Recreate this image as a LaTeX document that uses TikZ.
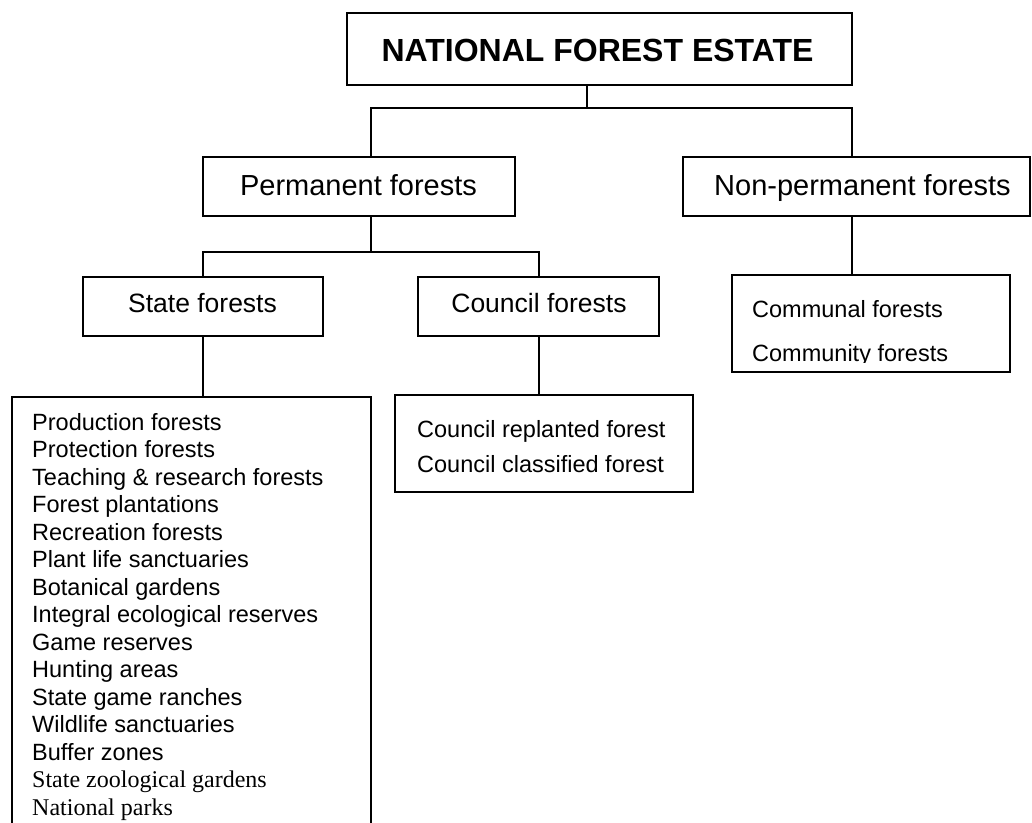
\documentclass[tikz,border=0pt]{standalone}
\usepackage{fontspec}
\setmainfont{Liberation Sans}
\newfontfamily\seriffont{Liberation Serif}
\begin{document}
\begin{tikzpicture}[x=1pt,y=-1pt,
  box/.style={draw=black,line width=1.3pt,inner sep=0pt,outer sep=0pt,rectangle},
  conn/.style={draw=black,line width=1.3pt},
  lbltitle/.style={anchor=base,inner sep=0pt,font=\bfseries\fontsize{32}{36}\selectfont},
  lbltwo/.style={anchor=base,inner sep=0pt,font=\fontsize{29}{33}\selectfont},
  lblthree/.style={anchor=base,inner sep=0pt,font=\fontsize{26.5}{30}\selectfont},
  lbllist/.style={anchor=base west,inner sep=0pt,font=\fontsize{23.5}{27.5}\selectfont},
  lblserif/.style={anchor=base west,inner sep=0pt,font=\seriffont\fontsize{24}{27.5}\selectfont}]
\clip (0,0) rectangle (1032,822);
\fill[white] (0,0) rectangle (1032,822);

% boxes
\node[box,minimum width=505pt,minimum height=72pt] (nfe) at (599.5,49) {};
\node[box,minimum width=312pt,minimum height=59pt] (pf) at (359,186.5) {};
\node[box,minimum width=347pt,minimum height=59pt] (np) at (856.5,186.5) {};
\node[box,minimum width=240pt,minimum height=59pt] (sf) at (203,306.5) {};
\node[box,minimum width=241pt,minimum height=59pt] (cf) at (538.5,306.5) {};
\node[box,minimum width=359pt,minimum height=453pt] (sl) at (191.5,623.5) {};
\node[box,minimum width=298pt,minimum height=97pt] (cl) at (544,443.5) {};
\node[box,minimum width=278pt,minimum height=97pt] (cm) at (871,323.5) {};

% texts
\node[lbltitle] (tnfe) at (597.5,61.7) {NATIONAL FOREST ESTATE};
\node[lbltwo] (tpf) at (358.5,195) {Permanent forests};
\node[lbltwo] (tnp) at (862.5,195) {Non-permanent forests};
\node[lblthree] (tsf) at (202.5,312.5) {State forests};
\node[lblthree] (tcf) at (539,312.3) {Council forests};

\foreach \t [count=\i from 0] in {Production forests,Protection forests,Teaching \& research forests,Forest plantations,Recreation forests,Plant life sanctuaries,Botanical gardens,Integral ecological reserves,Game reserves,Hunting areas,State game ranches,Wildlife sanctuaries,Buffer zones}
  \node[lbllist] (sl\i) at (32,430+\i*27.5) {\t};
\node[lblserif] (sl13) at (32,430+13*27.5) {State zoological gardens};
\node[lblserif] (sl14) at (32,430+14*27.5) {National parks};

\node[lbllist] (cl0) at (417,437) {Council replanted forest};
\node[lbllist] (cl1) at (417,472) {Council classified forest};

\begin{scope}
  \clip (732,275) rectangle (1010,362);
  \node[lbllist] (cm0) at (752,317) {Communal forests};
  \node[lbllist] (cm1) at (752,361) {Community forests};
\end{scope}

% connectors
\coordinate (j1) at (587,108);
\coordinate (h1l) at (371,108);
\coordinate (h1r) at (852,108);
\coordinate (j2) at (371,252);
\coordinate (h2l) at (203,252);
\coordinate (h2r) at (539,252);

\draw[conn] (nfe.south -| j1) -- (j1);
\draw[conn] (pf.north -| h1l) |- (h1r) -- (np.north -| h1r);
\draw[conn] (pf.south -| j2) -- (j2);
\draw[conn] (sf.north -| h2l) |- (h2r) -- (cf.north -| h2r);
\draw[conn] (sf.south -| h2l) -- (sl.north -| h2l);
\draw[conn] (cf.south -| h2r) -- (cl.north -| h2r);
\draw[conn] (np.south -| h1r) -- (cm.north -| h1r);
\end{tikzpicture}
\end{document}
